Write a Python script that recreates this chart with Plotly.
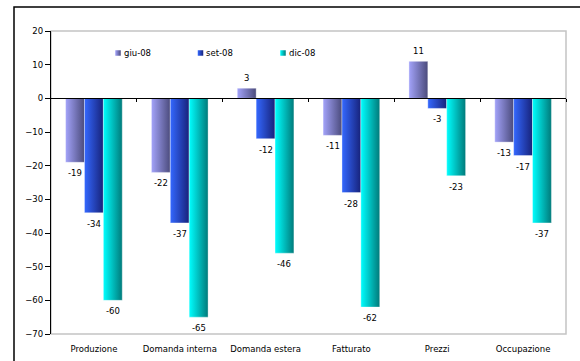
import plotly.graph_objects as go

# Survey balances by indicator, three observation months
categories = ["Produzione", "Domanda interna", "Domanda estera", "Fatturato", "Prezzi", "Occupazione"]
series_names = ["giu-08", "set-08", "dic-08"]
giu_08 = [-19, -22, 3, -11, 11, -13]
set_08 = [-34, -37, -12, -28, -3, -17]
dic_08 = [-60, -65, -46, -62, -23, -37]
y_ticks = [20, 10, 0, -10, -20, -30, -40, -50, -60, -70]

series_values = [giu_08, set_08, dic_08]
# (light, dark) for the left-to-right shading of each series
shades = [("#a3a3fa", "#4b4b7c"), ("#3468ff", "#17227a"), ("#00ffff", "#007a7a")]

FONT = "DejaVu Sans"
BAR_W = 0.22          # bar width in category units
offsets = [-BAR_W, 0.0, BAR_W]

# plot area in pixels (for the frame and the key placement)
PL, PR, PT, PB = 51, 566, 31, 334
def px_x(p):
    return (p - PL) / (PR - PL)
def px_y(p):
    return (PB - p) / (PB - PT)

fig = go.Figure()

# bars: one shaded polygon per value
for s, vals in enumerate(series_values):
    light, dark = shades[s]
    for i, v in enumerate(vals):
        x0 = i + offsets[s] - BAR_W / 2
        x1 = i + offsets[s] + BAR_W / 2
        fig.add_trace(go.Scatter(
            x=[x0, x1, x1, x0, x0], y=[0, 0, v, v, 0],
            mode="lines", line=dict(width=0.6, color="rgba(255,255,255,0.6)"),
            fill="toself",
            fillgradient=dict(type="horizontal",
                              colorscale=[[0, light], [1, dark]]),
            showlegend=False, hoverinfo="skip",
        ))

# value labels
annotations = []
for s, vals in enumerate(series_values):
    for i, v in enumerate(vals):
        annotations.append(dict(
            x=i + offsets[s], y=v, xref="x", yref="y", text=str(v),
            showarrow=False, xanchor="center",
            yanchor="bottom" if v > 0 else "top",
            yshift=3 if v > 0 else -4,
            font=dict(family=FONT, size=8.5, color="#000000"),
        ))

# key: shaded squares on a hidden unit axis, names as text
key_x = [118, 200.5, 283]
key_y = 53
for s, name in enumerate(series_names):
    light, dark = shades[s]
    fig.add_trace(go.Scatter(
        x=[px_x(key_x[s])], y=[px_y(key_y)], xaxis="x3", yaxis="y3",
        mode="markers", name=name, showlegend=False, hoverinfo="skip",
        marker=dict(symbol="square", size=5.5, color=light,
                    gradient=dict(type="horizontal", color=dark),
                    line=dict(width=0)),
    ))
    annotations.append(dict(
        x=px_x(key_x[s] + 3.5), y=px_y(key_y), xref="paper", yref="paper",
        text=name, showarrow=False, xanchor="left", yanchor="middle",
        font=dict(family=FONT, size=8.5, color="#000000"),
    ))

# category axis at the zero line (ticks between categories)
fig.add_trace(go.Scatter(x=[None], y=[None], xaxis="x2", showlegend=False))

hidden = dict(range=[0, 1], visible=False, fixedrange=True, showgrid=False,
              zeroline=False, automargin=False)

fig.update_layout(
    width=580, height=361,
    margin=dict(l=PL, r=580 - PR, t=PT, b=361 - PB, autoexpand=False),
    paper_bgcolor="white", plot_bgcolor="white",
    font=dict(family=FONT, size=8.5, color="#000000"),
    showlegend=False,
    annotations=annotations,
    xaxis=dict(range=[-0.5, 5.5], tickmode="array", tickvals=list(range(len(categories))),
               ticktext=categories, ticks="", showline=False, showgrid=False,
               zeroline=False, fixedrange=True, ticklabelstandoff=8, automargin=False),
    xaxis2=dict(range=[-0.5, 5.5], overlaying="x", anchor="free", position=70 / 90,
                side="bottom", tickmode="array",
                tickvals=[i + 0.5 for i in range(len(categories))],
                ticks="outside", ticklen=3, tickcolor="#000000",
                showticklabels=False, showline=True, linecolor="#000000", linewidth=1.2,
                showgrid=False, zeroline=False, fixedrange=True, automargin=False),
    xaxis3=dict(overlaying="x", anchor="y3", **hidden),
    yaxis3=dict(overlaying="y", anchor="x3", **hidden),
    yaxis=dict(range=[-70, 20], tickmode="array", tickvals=y_ticks,
               ticks="outside", ticklen=5, tickcolor="#000000",
               showline=True, linecolor="#000000", linewidth=1.2,
               showgrid=False, zeroline=False, fixedrange=True, automargin=False),
    shapes=[
        # plot area frame
        dict(type="rect", xref="paper", yref="paper", x0=0, x1=1, y0=0, y1=1,
             line=dict(color="#c4c4c4", width=1.5), layer="below"),
        # chart frame
        dict(type="rect", xref="paper", yref="paper",
             x0=px_x(14), x1=px_x(600), y0=px_y(380), y1=px_y(7),
             line=dict(color="#000000", width=1.5), layer="below"),
    ],
)

fig.write_html("out.html")
